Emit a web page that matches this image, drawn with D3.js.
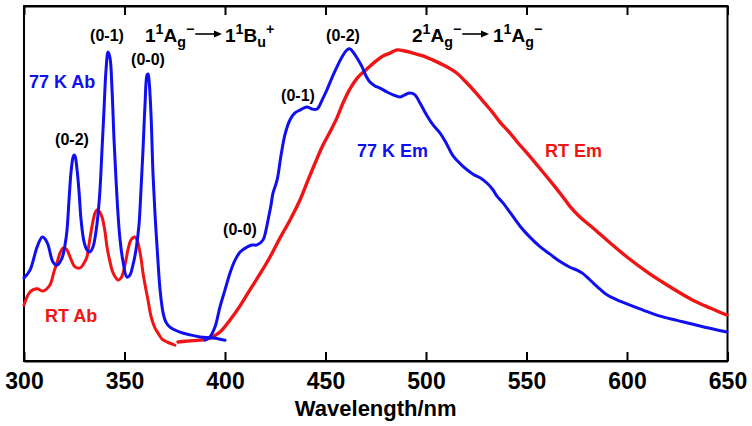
<!DOCTYPE html>
<html>
<head>
<meta charset="utf-8">
<script src="https://cdn.jsdelivr.net/npm/d3@7"></script>
<style>
  html, body { margin: 0; padding: 0; background: #fff; }
  svg { display: block; font-family: "Liberation Sans", Arial, sans-serif; font-weight: bold; }
</style>
</head>
<body>
<svg id="chart" width="752" height="426"></svg>
<script>
// ---- data (wavelength in nm, intensity in arbitrary normalized units) ----
const xTicks = [300, 350, 400, 450, 500, 550, 600, 650];

const abs77Wl = [300.0,303.0,306.5,309.0,310.5,312.0,314.4,316.4,318.9,320.4,321.4,322.4,323.4,324.4,324.9,325.4,326.4,327.4,328.4,329.9,331.3,332.8,334.3,335.8,336.8,337.8,338.8,339.8,340.8,341.8,342.8,343.8,344.8,345.8,346.8,347.8,349.3,351.2,352.7,354.2,355.7,357.2,358.2,359.2,360.2,361.2,361.7,362.2,363.2,364.2,365.2,366.2,367.7,369.2,370.6,372.6,377.6,382.6,387.6,394.0,400.0];
const abs77I  = [0.232,0.254,0.319,0.347,0.342,0.325,0.277,0.268,0.288,0.325,0.367,0.452,0.531,0.573,0.579,0.576,0.537,0.475,0.395,0.333,0.311,0.305,0.319,0.362,0.410,0.480,0.593,0.706,0.819,0.870,0.853,0.763,0.621,0.508,0.410,0.339,0.277,0.234,0.240,0.268,0.311,0.381,0.480,0.593,0.720,0.805,0.808,0.791,0.692,0.523,0.410,0.319,0.198,0.133,0.107,0.093,0.079,0.071,0.065,0.062,0.056];

const absRtWl = [300.0,303.0,306.5,309.5,312.9,314.9,316.4,317.9,319.4,320.9,321.9,323.9,325.4,327.9,329.9,331.3,332.3,333.8,335.3,336.3,337.3,338.8,340.3,341.3,342.8,344.3,346.8,348.3,349.3,350.7,351.7,353.2,354.7,355.7,356.7,358.2,359.2,360.7,361.7,362.7,363.7,365.2,366.7,368.7,371.1,375.1];
const absRtI  = [0.155,0.192,0.201,0.195,0.212,0.249,0.274,0.302,0.316,0.314,0.305,0.277,0.263,0.260,0.274,0.291,0.325,0.376,0.415,0.424,0.421,0.404,0.362,0.319,0.277,0.246,0.226,0.232,0.246,0.282,0.311,0.339,0.347,0.345,0.331,0.288,0.246,0.198,0.169,0.136,0.113,0.090,0.076,0.059,0.051,0.042];

const em77Wl = [390.0,392.5,395.0,397.5,400.0,402.5,405.0,407.5,410.9,413.4,415.9,418.9,420.4,421.4,422.9,423.9,425.9,427.9,429.8,432.3,434.8,437.3,440.8,443.3,445.8,448.3,450.7,453.2,455.7,458.2,460.7,462.2,463.7,465.7,468.2,470.2,472.1,474.6,477.1,480.6,483.6,487.1,489.5,492.0,494.5,497.0,500.5,503.5,507.0,510.4,513.4,518.4,523.4,526.9,530.3,533.3,535.3,538.3,541.8,546.8,551.7,556.7,561.7,566.7,571.6,575.1,578.1,581.6,586.6,590.0,596.5,608.0,616.4,624.9,636.3,649.7];
const em77I  = [0.056,0.065,0.093,0.150,0.198,0.246,0.282,0.305,0.319,0.325,0.325,0.339,0.367,0.395,0.438,0.472,0.508,0.579,0.636,0.678,0.698,0.706,0.715,0.709,0.709,0.734,0.763,0.797,0.828,0.856,0.876,0.879,0.870,0.853,0.828,0.802,0.785,0.774,0.768,0.757,0.749,0.743,0.749,0.754,0.749,0.726,0.690,0.664,0.641,0.609,0.577,0.547,0.525,0.515,0.500,0.481,0.463,0.444,0.417,0.378,0.347,0.320,0.299,0.278,0.262,0.254,0.244,0.226,0.200,0.184,0.166,0.141,0.124,0.112,0.096,0.079];

const emRtWl = [376.6,382.6,387.6,392.5,397.5,402.5,407.5,412.4,417.4,422.4,427.4,432.3,437.3,441.3,444.8,448.3,452.2,455.7,458.7,462.2,466.2,470.6,474.6,478.6,482.1,485.6,489.5,493.5,498.5,503.5,509.4,515.4,519.4,525.4,529.3,533.3,536.8,541.8,545.8,550.2,555.2,560.2,564.2,568.2,571.6,576.6,583.1,591.5,600.0,609.9,619.9,632.8,641.3,649.7];
const emRtI  = [0.051,0.054,0.056,0.062,0.079,0.113,0.153,0.198,0.243,0.291,0.345,0.395,0.452,0.508,0.556,0.602,0.644,0.684,0.726,0.766,0.799,0.822,0.842,0.859,0.867,0.876,0.873,0.867,0.859,0.847,0.831,0.810,0.788,0.751,0.725,0.698,0.672,0.641,0.613,0.585,0.551,0.517,0.489,0.460,0.434,0.404,0.373,0.331,0.291,0.249,0.212,0.169,0.147,0.127];

// ---- layout ----
const plot = { left: 24, right: 727.5, top: 6, bottom: 361 };
const BLUE = "#0f0ff0", RED = "#f01414";

const svg = d3.select("#chart");
const x = d3.scaleLinear().domain([300, 650]).range([plot.left, plot.right]);
const y = d3.scaleLinear().domain([0, 1]).range([360, 6]);

// frame
svg.append("rect")
  .attr("x", plot.left).attr("y", plot.top)
  .attr("width", plot.right - plot.left).attr("height", plot.bottom - plot.top)
  .attr("fill", "none").attr("stroke", "#000").attr("stroke-width", 2);

// bottom axis (inward ticks)
const xAxisB = d3.axisBottom(x).tickValues(xTicks).tickSizeInner(-9).tickSizeOuter(0).tickPadding(12);
const gB = svg.append("g").attr("transform", `translate(0,${plot.bottom})`).call(xAxisB);
gB.select(".domain").attr("stroke", "#000").attr("stroke-width", 2);
gB.selectAll(".tick line").attr("stroke", "#000").attr("stroke-width", 2);
gB.selectAll(".tick text").attr("font-size", 23).attr("font-weight", "bold")
  .attr("font-family", "Liberation Sans, Arial, sans-serif").attr("fill", "#000");

// top axis (inward ticks, no labels)
const xAxisT = d3.axisTop(x).tickValues(xTicks).tickSizeInner(-9).tickSizeOuter(0).tickFormat("");
const gT = svg.append("g").attr("transform", `translate(0,${plot.top})`).call(xAxisT);
gT.select(".domain").attr("stroke", "#000").attr("stroke-width", 2);
gT.selectAll(".tick line").attr("stroke", "#000").attr("stroke-width", 2);

// axis title
svg.append("text").attr("x", (plot.left + plot.right) / 2).attr("y", 416)
  .attr("text-anchor", "middle").attr("font-size", 22).text("Wavelength/nm");

// curves
const line = d3.line().x(d => x(d[0])).y(d => y(d[1])).curve(d3.curveCatmullRom.alpha(0.5));
const zip = (a, b) => a.map((v, i) => [v, b[i]]);
const series = [
  { wl: absRtWl, I: absRtI, color: RED, w: 3 },
  { wl: emRtWl, I: emRtI, color: RED, w: 3.4 },
  { wl: abs77Wl, I: abs77I, color: BLUE, w: 3 },
  { wl: em77Wl, I: em77I, color: BLUE, w: 3 }
];
series.forEach(s => {
  svg.append("path").datum(zip(s.wl, s.I)).attr("d", line)
    .attr("fill", "none").attr("stroke", s.color).attr("stroke-width", s.w)
    .attr("stroke-linejoin", "round").attr("stroke-linecap", "round");
});

// plain labels
const labels = [
  { t: "77 K Ab", x: 29, y: 88, c: BLUE, s: 18, a: "start" },
  { t: "RT Ab", x: 45, y: 322, c: RED, s: 18, a: "start" },
  { t: "77 K Em", x: 357, y: 157, c: BLUE, s: 18, a: "start" },
  { t: "RT Em", x: 545, y: 157, c: RED, s: 18, a: "start" },
  { t: "(0-1)", x: 107, y: 41, c: "#000", s: 16, a: "middle" },
  { t: "(0-0)", x: 148, y: 65, c: "#000", s: 16, a: "middle" },
  { t: "(0-2)", x: 72, y: 145, c: "#000", s: 16, a: "middle" },
  { t: "(0-2)", x: 343, y: 41, c: "#000", s: 16, a: "middle" },
  { t: "(0-1)", x: 298, y: 101, c: "#000", s: 16, a: "middle" },
  { t: "(0-0)", x: 240, y: 235, c: "#000", s: 16, a: "middle" }
];
labels.forEach(l => {
  svg.append("text").attr("x", l.x).attr("y", l.y).attr("fill", l.c)
    .attr("font-size", l.s).attr("text-anchor", l.a).text(l.t);
});

// state labels with super/subscripts
function rich(xp, yp, parts, size) {
  const t = svg.append("text").attr("x", xp).attr("y", yp).attr("font-size", size).attr("fill", "#000");
  let cur = 0;
  parts.forEach(([txt, type]) => {
    const target = type === "sup" ? -0.42 * size : type === "sub" ? 0.28 * size : 0;
    t.append("tspan").attr("dy", target - cur)
      .attr("font-size", type === "n" ? size : size * 0.75).text(txt);
    cur = target;
  });
  return t;
}
function arrow(x1, x2, yy) {
  svg.append("line").attr("x1", x1).attr("x2", x2 - 6).attr("y1", yy).attr("y2", yy)
    .attr("stroke", "#000").attr("stroke-width", 1.6);
  svg.append("path").attr("d", `M${x2 - 8},${yy - 3.5} L${x2},${yy} L${x2 - 8},${yy + 3.5} Z`).attr("fill", "#000");
}
const fs = 19;
const partsAg = d => [[d, "n"], ["1", "sup"], ["A", "n"], ["g", "sub"], ["\u2212", "sup"]];
const partsBu = [["1", "n"], ["1", "sup"], ["B", "n"], ["u", "sub"], ["+", "sup"]];

const l1 = rich(145, 42, partsAg("1"), fs);
const l1b = l1.node().getBBox();
arrow(l1b.x + l1b.width + 1, 222, 34);
rich(225, 42, partsBu, fs);

const l2 = rich(412, 42, partsAg("2"), fs);
const l2b = l2.node().getBBox();
arrow(l2b.x + l2b.width + 1, 489, 34);
rich(493, 42, partsAg("1"), fs);
</script>
</body>
</html>
